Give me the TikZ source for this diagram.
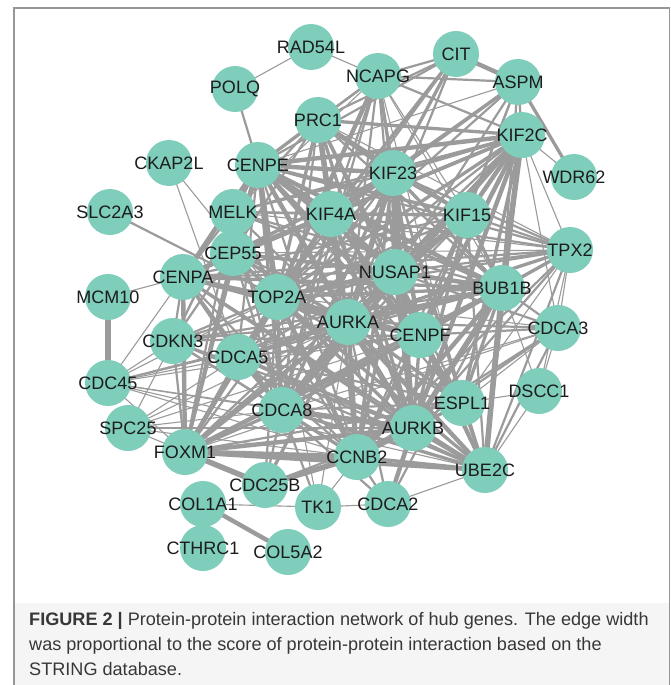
\documentclass[tikz,border=0pt]{standalone}
\usepackage{fontspec}
\setmainfont{Liberation Sans}
\definecolor{nodefill}{RGB}{127,205,187}
\definecolor{edgecol}{RGB}{155,155,155}
\definecolor{labeltext}{RGB}{28,28,28}
\definecolor{captext}{RGB}{55,55,55}
\definecolor{framecol}{RGB}{150,150,150}
\definecolor{capbg}{RGB}{245,245,245}
\pgfdeclarelayer{bg}
\pgfsetlayers{bg,main}
\tikzset{
  gene/.style={circle, fill=nodefill, draw=none, minimum size=46pt, inner sep=0pt,
    text=labeltext, font=\fontsize{18pt}{20pt}\selectfont},
  edge/.style={draw=edgecol},
  capline/.style={anchor=base west, inner sep=0pt, text=captext,
    font=\fontsize{18.1pt}{21pt}\selectfont},
  frameline/.style={draw=framecol, line width=1.2pt}
}
\newcommand{\gn}[1]{\makebox[0pt]{#1}}
\begin{document}
\begin{tikzpicture}[x=1pt, y=-1pt]
\useasboundingbox (0,0) rectangle (670,685);

% nodes
\node[gene] (RAD54L) at (311,47) {\gn{RAD54L}};
\node[gene] (NCAPG) at (378,76) {\gn{NCAPG}};
\node[gene] (CIT) at (456,54) {\gn{CIT}};
\node[gene] (ASPM) at (518,82) {\gn{ASPM}};
\node[gene] (POLQ) at (235,89) {\gn{POLQ}};
\node[gene] (PRC1) at (318,120) {\gn{PRC1}};
\node[gene] (KIF2C) at (522,135) {\gn{KIF2C}};
\node[gene] (CKAP2L) at (169,163) {\gn{CKAP2L}};
\node[gene] (CENPE) at (258,165) {\gn{CENPE}};
\node[gene] (KIF23) at (393,173) {\gn{KIF23}};
\node[gene] (WDR62) at (574,177) {\gn{WDR62}};
\node[gene] (SLC2A3) at (110,212) {\gn{SLC2A3}};
\node[gene] (MELK) at (233,212) {\gn{MELK}};
\node[gene] (KIF4A) at (331,214) {\gn{KIF4A}};
\node[gene] (KIF15) at (467,215) {\gn{KIF15}};
\node[gene] (CEP55) at (233,253) {\gn{CEP55}};
\node[gene] (TPX2) at (570,250) {\gn{TPX2}};
\node[gene] (CENPA) at (183,277) {\gn{CENPA}};
\node[gene] (NUSAP1) at (395,272) {\gn{NUSAP1}};
\node[gene] (MCM10) at (108,297) {\gn{MCM10}};
\node[gene] (TOP2A) at (277,297) {\gn{TOP2A}};
\node[gene] (BUB1B) at (502,288) {\gn{BUB1B}};
\node[gene] (AURKA) at (348,322) {\gn{AURKA}};
\node[gene] (CDCA3) at (558,328) {\gn{CDCA3}};
\node[gene] (CENPF) at (420,335) {\gn{CENPF}};
\node[gene] (CDKN3) at (173,341) {\gn{CDKN3}};
\node[gene] (CDCA5) at (238,357) {\gn{CDCA5}};
\node[gene] (CDC45) at (108,383) {\gn{CDC45}};
\node[gene] (DSCC1) at (539,391) {\gn{DSCC1}};
\node[gene] (ESPL1) at (462,403) {\gn{ESPL1}};
\node[gene] (CDCA8) at (282,410) {\gn{CDCA8}};
\node[gene] (SPC25) at (128,428) {\gn{SPC25}};
\node[gene] (AURKB) at (413,428) {\gn{AURKB}};
\node[gene] (FOXM1) at (185,452) {\gn{FOXM1}};
\node[gene] (CCNB2) at (357,457) {\gn{CCNB2}};
\node[gene] (UBE2C) at (485,470) {\gn{UBE2C}};
\node[gene] (CDC25B) at (265,485) {\gn{CDC25B}};
\node[gene] (COL1A1) at (203,504) {\gn{COL1A1}};
\node[gene] (CDCA2) at (388,504) {\gn{CDCA2}};
\node[gene] (TK1) at (318,507) {\gn{TK1}};
\node[gene] (CTHRC1) at (203,548) {\gn{CTHRC1}};
\node[gene] (COL5A2) at (288,552) {\gn{COL5A2}};

\begin{pgfonlayer}{bg}
\fill[white] (0,0) rectangle (670,685);
\fill[capbg] (14.6,603) rectangle (669,685);
\coordinate (fbl) at (14,685);
\coordinate (ftl) at (14,8);
\coordinate (ftr) at (669.3,8);
\coordinate (fbr) at (669.3,685);
\draw[frameline] (fbl) -- (ftl) -- (ftr) -- (fbr);
\foreach \a/\b/\w in {
POLQ/RAD54L/1, RAD54L/NCAPG/1, POLQ/CENPE/2, NCAPG/CIT/2, NCAPG/ASPM/2, CIT/ASPM/4, CIT/KIF23/3, CIT/KIF4A/3, CIT/AURKA/2, CIT/CENPE/2, CIT/TOP2A/2, CIT/PRC1/2,
ASPM/KIF2C/2, ASPM/WDR62/3, ASPM/CENPE/1, ASPM/KIF23/3, ASPM/KIF4A/2, ASPM/CENPF/2, ASPM/TOP2A/2, ASPM/NUSAP1/2, ASPM/BUB1B/2, ASPM/KIF15/2,
PRC1/KIF2C/3, PRC1/KIF23/4, PRC1/NCAPG/2, PRC1/CENPE/3, PRC1/KIF4A/5, PRC1/TOP2A/3, PRC1/AURKA/3, PRC1/NUSAP1/3, PRC1/CENPF/2, PRC1/BUB1B/2, PRC1/KIF15/2, PRC1/CDCA8/2, PRC1/AURKB/3, PRC1/MELK/2, PRC1/CEP55/2, PRC1/TPX2/1,
NCAPG/KIF23/3, NCAPG/KIF4A/2, NCAPG/TOP2A/4, NCAPG/AURKA/2, NCAPG/NUSAP1/2, NCAPG/CENPE/2, NCAPG/KIF15/1, NCAPG/BUB1B/1, NCAPG/CDCA8/2, NCAPG/CENPF/2, NCAPG/ESPL1/1, NCAPG/KIF2C/2, NCAPG/MELK/1,
KIF2C/CENPE/4, KIF2C/KIF23/3, KIF2C/KIF4A/3, KIF2C/KIF15/4, KIF2C/NUSAP1/4, KIF2C/BUB1B/5, KIF2C/AURKA/3, KIF2C/CENPF/4, KIF2C/TOP2A/3, KIF2C/AURKB/4, KIF2C/ESPL1/3, KIF2C/CDCA8/4, KIF2C/CENPA/3, KIF2C/CEP55/2, KIF2C/MELK/2, KIF2C/TPX2/1, KIF2C/CDCA3/1, KIF2C/UBE2C/2, KIF2C/CCNB2/3, KIF2C/FOXM1/2, KIF2C/CDCA5/2, KIF2C/WDR62/1,
CENPE/KIF23/4, CENPE/KIF4A/5, CENPE/MELK/3, CENPE/CEP55/4, CENPE/TOP2A/5, CENPE/AURKA/4, CENPE/NUSAP1/3, CENPE/KIF15/3, CENPE/CENPF/4, CENPE/BUB1B/4, CENPE/CENPA/4, CENPE/CDCA8/3, CENPE/AURKB/3, CENPE/CCNB2/2, CENPE/TPX2/2, CENPE/CDCA5/2, CENPE/ESPL1/2, CENPE/CDKN3/2, CENPE/FOXM1/3,
KIF23/KIF4A/5, KIF23/NUSAP1/4, KIF23/AURKA/5, KIF23/TOP2A/3, KIF23/KIF15/3, KIF23/BUB1B/3, KIF23/CENPF/4, KIF23/AURKB/5, KIF23/CCNB2/3, KIF23/CDCA8/3, KIF23/TPX2/2, KIF23/MELK/2, KIF23/CEP55/3, KIF23/ESPL1/2, KIF23/UBE2C/2, KIF23/CENPA/2, KIF23/FOXM1/2,
KIF4A/TOP2A/4, KIF4A/AURKA/4, KIF4A/NUSAP1/4, KIF4A/CENPF/3, KIF4A/BUB1B/3, KIF4A/KIF15/3, KIF4A/AURKB/4, KIF4A/CDCA8/3, KIF4A/CCNB2/3, KIF4A/MELK/2, KIF4A/CEP55/3, KIF4A/TPX2/2, KIF4A/ESPL1/2, KIF4A/FOXM1/3,
KIF15/NUSAP1/3, KIF15/BUB1B/3, KIF15/TPX2/2, KIF15/AURKA/3, KIF15/CENPF/3, KIF15/TOP2A/2, KIF15/CDCA8/2, KIF15/AURKB/3, KIF15/UBE2C/2, KIF15/CCNB2/2, KIF15/MELK/2, KIF15/CENPA/2,
TPX2/BUB1B/3, TPX2/NUSAP1/2, TPX2/AURKA/3, TPX2/TOP2A/2, TPX2/CENPF/2, TPX2/AURKB/2, TPX2/CDCA3/1, TPX2/UBE2C/2, TPX2/ESPL1/1, TPX2/CEP55/1, TPX2/MELK/1, TPX2/CCNB2/2, TPX2/CDCA8/1, TPX2/DSCC1/1,
MELK/CEP55/3, MELK/TOP2A/3, MELK/AURKA/2, MELK/CENPA/2, MELK/CDCA8/2, MELK/NUSAP1/2, MELK/BUB1B/2, MELK/FOXM1/2, MELK/CCNB2/2, MELK/CDKN3/1,
CEP55/TOP2A/3, CEP55/CENPA/3, CEP55/AURKA/3, CEP55/NUSAP1/3, CEP55/CDCA8/2, CEP55/FOXM1/3, CEP55/CENPF/2, CEP55/BUB1B/2, CEP55/CCNB2/2, CEP55/CDKN3/2, CEP55/AURKB/2,
CENPA/MCM10/1, CENPA/TOP2A/3, CENPA/AURKA/3, CENPA/CENPF/3, CENPA/BUB1B/3, CENPA/CDKN3/2, CENPA/CDCA5/2, CENPA/FOXM1/4, CENPA/CDCA8/3, CENPA/AURKB/3, CENPA/NUSAP1/2, CENPA/CCNB2/2, CENPA/CDC45/1, CENPA/TPX2/2, CENPA/UBE2C/2,
NUSAP1/AURKA/4, NUSAP1/TOP2A/4, NUSAP1/BUB1B/4, NUSAP1/CENPF/3, NUSAP1/AURKB/4, NUSAP1/CDCA8/3, NUSAP1/CCNB2/3, NUSAP1/ESPL1/2, NUSAP1/UBE2C/3, NUSAP1/FOXM1/2, NUSAP1/CDCA5/2, NUSAP1/CDKN3/2, NUSAP1/CDCA3/2,
TOP2A/AURKA/5, TOP2A/CDCA5/3, TOP2A/CDCA8/3, TOP2A/BUB1B/3, TOP2A/CENPF/3, TOP2A/AURKB/3, TOP2A/CCNB2/4, TOP2A/FOXM1/4, TOP2A/UBE2C/3, TOP2A/CDKN3/2, TOP2A/ESPL1/2, TOP2A/CDC25B/2, TOP2A/CDC45/1, TOP2A/TK1/1, TOP2A/CDCA3/1, SLC2A3/TOP2A/2, CKAP2L/TOP2A/1, CKAP2L/CDCA5/1,
BUB1B/AURKA/4, BUB1B/CENPF/4, BUB1B/AURKB/5, BUB1B/ESPL1/3, BUB1B/UBE2C/5, BUB1B/CCNB2/4, BUB1B/CDCA8/3, BUB1B/CDCA3/2, BUB1B/CDCA5/2, BUB1B/FOXM1/3, BUB1B/CDKN3/2, BUB1B/DSCC1/1, BUB1B/CDCA2/2,
AURKA/CENPF/4, AURKA/AURKB/5, AURKA/CCNB2/4, AURKA/CDCA8/4, AURKA/CDCA5/3, AURKA/UBE2C/4, AURKA/FOXM1/4, AURKA/ESPL1/3, AURKA/CDKN3/2, AURKA/CDC25B/3, AURKA/CDCA3/2, AURKA/TK1/1, AURKA/CDC45/2, AURKA/SPC25/1, AURKA/CDCA2/2,
CENPF/AURKB/3, CENPF/CCNB2/3, CENPF/CDCA8/3, CENPF/UBE2C/3, CENPF/FOXM1/3, CENPF/ESPL1/2, CENPF/CDCA5/2, CENPF/CDCA3/2, CENPF/CDKN3/2,
CDCA3/AURKB/2, CDCA3/UBE2C/2, CDCA3/CCNB2/2, CDCA3/CDCA8/1, CDCA3/ESPL1/1, CDCA3/FOXM1/1, CDCA3/DSCC1/1,
CDKN3/CDC45/1, CDKN3/FOXM1/2, CDKN3/CDCA8/2, CDKN3/CCNB2/2, CDKN3/AURKB/2, CDKN3/UBE2C/2, CDKN3/SPC25/1,
CDCA5/CDCA8/3, CDCA5/AURKB/3, CDCA5/ESPL1/2, CDCA5/CCNB2/2, CDCA5/FOXM1/2, CDCA5/UBE2C/2, CDCA5/CDC45/1, CDCA5/SPC25/1,
CDC45/MCM10/5, CDC45/FOXM1/1, CDC45/CDCA8/1, CDC45/CCNB2/1, CDC45/AURKB/1, CDC45/UBE2C/1, CDC45/BUB1B/1, CDC45/CENPF/1,
SPC25/FOXM1/1, SPC25/CDCA8/1, SPC25/AURKB/1, SPC25/CCNB2/1, SPC25/CENPF/1,
DSCC1/ESPL1/1, DSCC1/UBE2C/1,
ESPL1/AURKB/3, ESPL1/UBE2C/3, ESPL1/CCNB2/2, ESPL1/CDCA8/2, ESPL1/FOXM1/2,
CDCA8/AURKB/5, CDCA8/CCNB2/3, CDCA8/FOXM1/3, CDCA8/UBE2C/3, CDCA8/CDC25B/2, CDCA8/CDCA2/2, CDCA8/TK1/2,
AURKB/CCNB2/4, AURKB/UBE2C/4, AURKB/FOXM1/4, AURKB/CDCA2/4, AURKB/CDC25B/2,
FOXM1/CCNB2/5, FOXM1/UBE2C/4, FOXM1/CDC25B/5,
CCNB2/UBE2C/3, CCNB2/CDC25B/5, CCNB2/TK1/1, CCNB2/CDCA2/2,
UBE2C/CDCA2/1,
COL1A1/TK1/1, COL1A1/COL5A2/4, COL1A1/CTHRC1/3, TK1/CDCA2/1}
{\draw[edge, line width={\w*1.1pt}] (\a.center) -- (\b.center);}
\end{pgfonlayer}

% caption
\node[capline] (cap1) at (29,625) {\textbf{FIGURE 2 |} Protein-protein interaction network of hub genes. The edge width};
\node[capline] (cap2) at (29,650) {was proportional to the score of protein-protein interaction based on the};
\node[capline] (cap3) at (29,675) {STRING database.};
\end{tikzpicture}
\end{document}
